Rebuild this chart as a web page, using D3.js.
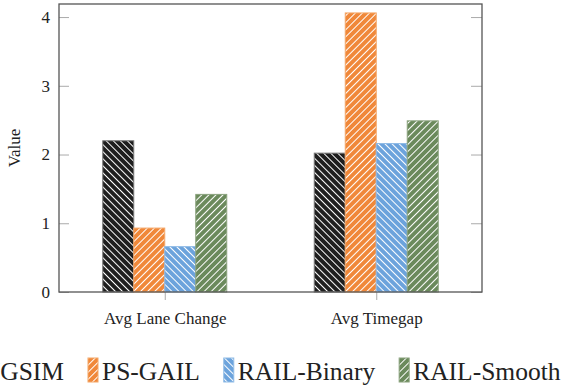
<!DOCTYPE html>
<html>
<head>
<meta charset="utf-8">
<script src="https://cdn.jsdelivr.net/npm/d3@7/dist/d3.min.js"></script>
<style>
  html, body { margin: 0; padding: 0; background: #fff; }
  svg { display: block; }
</style>
</head>
<body>
<svg id="chart" width="568" height="385"></svg>
<script>
// Metrics and methods
const categories = ["Avg Lane Change", "Avg Timegap"];
const methods = ["NGSIM", "PS-GAIL", "RAIL-Binary", "RAIL-Smooth"];
const ngsim = [2.20, 2.02];
const psGail = [0.93, 4.06];
const railBinary = [0.66, 2.16];
const railSmooth = [1.42, 2.49];
const yTicks = [0, 1, 2, 3, 4];

const FONT = "Liberation Serif";
const seriesValues = [ngsim, psGail, railBinary, railSmooth];
const colors = ["#1f1f1f", "#f0883a", "#6ca3dc", "#6b8a5c"];
const strokes = ["#777777", "#f4a768", "#8fbbe6", "#8aa27d"];
// hatch direction per series: "\" for NGSIM/RAIL-Binary, "/" for the others
const hatchAngle = [-45, 45, -45, 45];

const svg = d3.select("#chart").attr("font-family", FONT);
const plotL = 59, plotR = 482, plotT = 4, plotB = 292;

const x = d3.scalePoint().domain(categories).range([plotL, plotR]).padding(0.5);
const y = d3.scaleLinear().domain([0, 4.19]).range([plotB, plotT]);
const barW = 31;

// hatch patterns
const defs = svg.append("defs");
methods.forEach((m, i) => {
  const p = defs.append("pattern")
    .attr("id", "hatch" + i)
    .attr("patternUnits", "userSpaceOnUse")
    .attr("width", 5).attr("height", 5)
    .attr("patternTransform", `rotate(${hatchAngle[i]})`);
  p.append("rect").attr("width", 5).attr("height", 5).attr("fill", colors[i]);
  p.append("line").attr("x1", 0.5).attr("x2", 0.5).attr("y1", 0).attr("y2", 5)
    .attr("stroke", "#ffffff").attr("stroke-width", 1);
});

// bars
seriesValues.forEach((vals, i) => {
  svg.append("g").selectAll("rect")
    .data(categories.map((c, k) => ({ c, v: vals[k] })))
    .join("rect")
    .attr("x", d => x(d.c) + (i - 2) * barW)
    .attr("y", d => y(d.v))
    .attr("width", barW)
    .attr("height", d => y(0) - y(d.v))
    .attr("fill", `url(#hatch${i})`)
    .attr("stroke", strokes[i])
    .attr("stroke-width", 1);
});

// y axis ticks (inside, both sides)
const yAxisL = d3.axisLeft(y).tickValues(yTicks).tickSize(-10).tickPadding(9).tickFormat(d3.format("d"));
const gl = svg.append("g").attr("transform", `translate(${plotL},0)`).call(yAxisL)
  .attr("font-family", FONT).attr("font-size", 17);
gl.select(".domain").remove();
gl.selectAll(".tick line").attr("stroke", "#aaaaaa");
gl.selectAll(".tick text").attr("fill", "#222");

const yAxisR = d3.axisRight(y).tickValues(yTicks).tickSize(-11).tickFormat("");
const gr = svg.append("g").attr("transform", `translate(${plotR},0)`).call(yAxisR);
gr.select(".domain").remove();
gr.selectAll(".tick line").attr("stroke", "#aaaaaa");

// x axis ticks below the frame
const xAxis = d3.axisBottom(x).tickSize(8).tickPadding(12);
const gx = svg.append("g").attr("transform", `translate(0,${plotB})`).call(xAxis)
  .attr("font-family", FONT).attr("font-size", 17);
gx.select(".domain").remove();
gx.selectAll(".tick line").attr("stroke", "#aaaaaa");
gx.selectAll(".tick text").attr("fill", "#222");

// frame
svg.append("rect")
  .attr("x", plotL).attr("y", plotT)
  .attr("width", plotR - plotL).attr("height", plotB - plotT)
  .attr("fill", "none").attr("stroke", "#555").attr("stroke-width", 1.3);

// y label
svg.append("text")
  .attr("transform", `translate(20,${(plotT + plotB) / 2}) rotate(-90)`)
  .attr("text-anchor", "middle")
  .attr("font-family", FONT)
  .attr("font-size", 17).attr("fill", "#222")
  .text("Value");

// legend
const legend = svg.append("g").attr("font-family", FONT).attr("font-size", 25.5).attr("fill", "#222");
const swW = 10, swH = 24, gapText = 4, gapItem = 24, baseY = 380;
const items = methods.map((m, i) => {
  const g = legend.append("g");
  const t = g.append("text").attr("y", baseY).text(m);
  return { g, t, w: t.node().getComputedTextLength(), i };
});
// legend row is wider than the canvas; first label runs off the left edge
let cx = 64 - items[0].w - gapText - swW;
items.forEach(it => {
  it.g.append("rect")
    .attr("x", cx).attr("y", baseY - 22)
    .attr("width", swW).attr("height", swH)
    .attr("fill", `url(#hatch${it.i})`)
    .attr("stroke", strokes[it.i]).attr("stroke-width", 1);
  it.t.attr("x", cx + swW + gapText);
  cx += swW + gapText + it.w + gapItem;
});
</script>
</body>
</html>
